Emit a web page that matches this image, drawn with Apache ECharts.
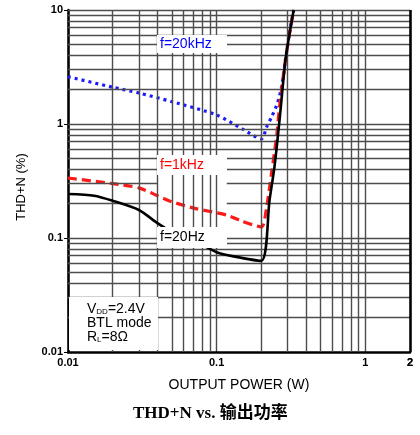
<!DOCTYPE html>
<html lang="en" style="height: 100%">
<head>
<meta charset="utf-8">
<title>THD+N vs. Output Power</title>
</head>
<body style="height: 100%; margin: 0; background: #fff">
<div id="container" style="width: 420px; height: 435px"></div>
<script type="text/javascript" src="https://cdn.jsdelivr.net/npm/echarts/dist/echarts.min.js"></script>
<script type="text/javascript">
// output power (W) and THD+N (%)
var power20Hz = [0.01, 0.015, 0.02, 0.03, 0.04, 0.05, 0.08, 0.1, 0.13, 0.2, 0.227, 0.245, 0.265, 0.29, 0.31, 0.33];
var thd20Hz   = [0.243, 0.235, 0.212, 0.176, 0.135, 0.113, 0.087, 0.075, 0.069, 0.063, 0.215, 0.42, 1.08, 3.6, 6.3, 10];
var power1kHz = [0.01, 0.02, 0.03, 0.04, 0.05, 0.07, 0.117, 0.145, 0.2, 0.217, 0.234, 0.253, 0.265, 0.29, 0.31, 0.33];
var thd1kHz   = [0.336, 0.30, 0.275, 0.235, 0.208, 0.183, 0.159, 0.142, 0.125, 0.187, 0.37, 0.77, 1.41, 3.6, 6.3, 10];
var power20kHz = [0.01, 0.02, 0.03, 0.05, 0.1, 0.15, 0.2, 0.217, 0.234, 0.257, 0.273, 0.29, 0.309, 0.33];
var thd20kHz   = [2.6, 2.1, 1.87, 1.57, 1.2, 0.9, 0.74, 0.94, 1.15, 1.53, 2.1, 3.6, 6.3, 10];

// grid positions (ticks of the log axes)
var xMinor = [0.02, 0.03, 0.04, 0.05, 0.06, 0.07, 0.08, 0.09, 0.2, 0.3, 0.4, 0.5, 0.6, 0.7, 0.8, 0.9];
var yGrid = [0.02, 0.03, 0.04, 0.05, 0.06, 0.07, 0.08, 0.09, 0.1, 0.2, 0.3, 0.4, 0.5, 0.6, 0.7, 0.8, 0.9,
             1, 2, 3, 4, 5, 6, 7, 8, 9, 10];

function pairs(xs, ys) {
    return xs.map(function (x, i) { return [x, ys[i]]; });
}

var gridColor = '#4d4d4d';
var gridWidth = 1.4;
var sans = "'Liberation Sans', Arial, sans-serif";

var myChart = echarts.init(document.getElementById('container'), null, { renderer: 'canvas' });

// horizontal grid lines are blanked behind the two lower labels
var gapX = [0.04, 0.117];
var gapY = [0.088, 0.52];
var gridLines = xMinor.map(function (v) { return { xAxis: v }; });
yGrid.forEach(function (v) {
    if (v >= gapY[0] && v <= gapY[1]) {
        gridLines.push([{ coord: [0.01, v] }, { coord: [gapX[0], v] }]);
        gridLines.push([{ coord: [gapX[1], v] }, { coord: [2, v] }]);
    } else {
        gridLines.push({ yAxis: v });
    }
});

function tag(text, color, left, top, h) {
    return {
        type: 'group', left: left, top: top,
        children: [
            { type: 'rect', z: 100, shape: { x: 0, y: 0, width: 70, height: h }, style: { fill: '#fff' } },
            { type: 'text', z: 101, x: 3, y: (h - 14) / 2, style: { text: text, fill: color, font: '14px ' + sans } }
        ]
    };
}

var option = {
    animation: false,
    backgroundColor: '#fff',
    grid: { left: 68, right: 10, top: 10, bottom: 83 },
    title: {
        text: 'THD+N vs. 输出功率',
        left: 128,
        top: 400,
        textStyle: {
            fontFamily: "'Liberation Serif', 'Noto Sans CJK SC', serif",
            fontWeight: 'bold',
            fontSize: 17,
            color: '#000'
        }
    },
    xAxis: {
        type: 'log',
        logBase: 10,
        min: 0.01,
        max: 2,
        name: 'OUTPUT POWER (W)',
        nameLocation: 'middle',
        nameGap: 26,
        nameTextStyle: { fontFamily: sans, fontSize: 14, color: '#000' },
        axisLine: { lineStyle: { color: '#000', width: 2.5 } },
        axisTick: { show: false },
        axisLabel: {
            fontFamily: sans, fontWeight: 'bold', fontSize: 11, color: '#000', margin: 5,
            formatter: function (v) { return String(v); }
        },
        splitLine: { show: true, lineStyle: { color: gridColor, width: gridWidth } }
    },
    yAxis: {
        type: 'log',
        logBase: 10,
        min: 0.01,
        max: 10,
        name: 'THD+N (%)',
        nameLocation: 'middle',
        nameGap: 40,
        nameTextStyle: { fontFamily: sans, fontSize: 13, color: '#000', padding: [0, 0, 0, -12] },
        axisLine: { lineStyle: { color: '#000', width: 2.5 } },
        axisTick: { show: true, inside: false, length: 4, lineStyle: { color: '#000', width: 1 } },
        axisLabel: {
            fontFamily: sans, fontWeight: 'bold', fontSize: 11, color: '#000', margin: 5,
            formatter: function (v) { return String(v); }
        },
        splitLine: { show: false }
    },
    series: [
        {
            type: 'line',
            data: [],
            silent: true,
            z: 1,
            markLine: {
                silent: true,
                symbol: 'none',
                animation: false,
                label: { show: false },
                lineStyle: { color: gridColor, width: gridWidth, type: 'solid' },
                data: gridLines.concat([
                    {
                        xAxis: 2,
                        lineStyle: { color: '#000', width: 2.5 },
                        label: {
                            show: true, position: 'start', formatter: '2', distance: 5,
                            fontFamily: sans, fontWeight: 'bold', fontSize: 11, color: '#000'
                        }
                    }
                ])
            }
        },
        {
            name: 'f=20kHz',
            type: 'line',
            data: pairs(power20kHz, thd20kHz),
            smooth: 0.25,
            symbol: 'none',
            z: 3,
            lineStyle: { color: '#1a1aff', width: 3.2, type: [3, 4] }
        },
        {
            name: 'f=1kHz',
            type: 'line',
            data: pairs(power1kHz, thd1kHz),
            smooth: 0.25,
            symbol: 'none',
            z: 4,
            lineStyle: { color: '#ff1a1a', width: 3.2, type: [9, 5] }
        },
        {
            name: 'f=20Hz',
            type: 'line',
            data: pairs(power20Hz, thd20Hz),
            smooth: 0.25,
            symbol: 'none',
            z: 5,
            lineStyle: { color: '#000', width: 2.6 }
        }
    ],
    graphic: [
        tag('f=20kHz', '#0000ff', 157, 35, 18),
        tag('f=1kHz', '#ff0000', 157, 155, 20),
        tag('f=20Hz', '#000', 157, 227, 21),
        {
            type: 'group', left: 69, top: 297,
            children: [
                { type: 'rect', z: 100, shape: { x: 0, y: 0, width: 89, height: 53 }, style: { fill: '#fff' } },
                {
                    type: 'text', z: 101, x: 18, y: 5,
                    style: {
                        text: '{n|V}{s|DD}{n|=2.4V}\n{n|BTL mode}\n{n|R}{s|L}{n|=8Ω}',
                        fill: '#000',
                        rich: {
                            n: { fontFamily: sans, fontSize: 14, lineHeight: 14, fill: '#000' },
                            s: { fontFamily: sans, fontSize: 8, lineHeight: 14, padding: [6, 0, 0, 0], fill: '#000' }
                        }
                    }
                }
            ]
        }
    ]
};

myChart.setOption(option);
window.addEventListener('resize', myChart.resize);
</script>
</body>
</html>
